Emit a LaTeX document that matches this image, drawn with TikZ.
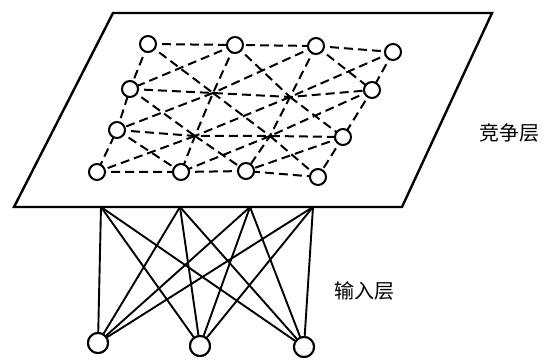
\documentclass[tikz,border=0pt]{standalone}
\usepackage{fontspec}
\newfontfamily\cjk{Noto Sans CJK SC}
\begin{document}
\begin{tikzpicture}[x=1pt,y=-1pt,
  unit/.style={circle,draw,line width=2pt,fill=white,inner sep=0pt,minimum size=16pt},
  inunit/.style={circle,draw,line width=2pt,fill=white,inner sep=0pt,minimum size=20pt},
  lat/.style={line width=2pt,dash pattern=on 9pt off 5pt},
  feed/.style={line width=1.9pt},
  plane/.style={line width=2.4pt},
  lbl/.style={font=\cjk\fontsize{20}{22}\selectfont}]
\useasboundingbox (0,0) rectangle (548,363);
% plane
\coordinate (p1) at (113,13);
\coordinate (p2) at (492,13);
\coordinate (p3) at (402,207);
\coordinate (p4) at (14,207);
\draw[plane] (p1) -- (p2) -- (p3) -- (p4) -- cycle;
% feed points on plane edge
\coordinate (f1) at (101,207);
\coordinate (f2) at (180,207);
\coordinate (f3) at (250,207);
\coordinate (f4) at (313,207);
% input units
\node[inunit] (i1) at (98,343) {};
\node[inunit] (i2) at (200,346) {};
\node[inunit] (i3) at (304,347) {};
\foreach \f in {f1,f2,f3,f4}{
  \foreach \i in {i1,i2,i3}{
    \draw[feed] (\f) -- (\i);
  }
}
\foreach \i in {i1,i2,i3}{\node[inunit] at (\i) {};}
% competitive layer grid
\coordinate (n11) at (148,44);
\coordinate (n12) at (235,45);
\coordinate (n13) at (316,46);
\coordinate (n14) at (393,52);
\coordinate (n21) at (130,89);
\coordinate (n22) at (213,93);
\coordinate (n23) at (290,97);
\coordinate (n24) at (372,90);
\coordinate (n31) at (117,130);
\coordinate (n32) at (195,136);
\coordinate (n33) at (270,136);
\coordinate (n34) at (343,137);
\coordinate (n41) at (97,172);
\coordinate (n42) at (181,172);
\coordinate (n43) at (246,171);
\coordinate (n44) at (318,177);
% horizontal lines
\foreach \r in {1,2,3,4}{
  \draw[lat] (n\r1) -- (n\r2) -- (n\r3) -- (n\r4);
}
% column lines
\foreach \c in {1,2,3,4}{
  \draw[lat] (n1\c) -- (n2\c) -- (n3\c) -- (n4\c);
}
% diagonals
\foreach \r/\rn in {1/2,2/3,3/4}{
  \foreach \c/\cn in {1/2,2/3,3/4}{
    \draw[lat] (n\r\c) -- (n\rn\cn);
    \draw[lat] (n\r\cn) -- (n\rn\c);
  }
}
% units
\foreach \n in {n11,n12,n13,n14,n21,n24,n31,n34,n41,n42,n43,n44}{
  \node[unit] at (\n) {};
}
% labels
\node[lbl] (l1) at (509,133) {竞争层};
\node[lbl] (l2) at (364,291) {输入层};
\end{tikzpicture}
\end{document}
